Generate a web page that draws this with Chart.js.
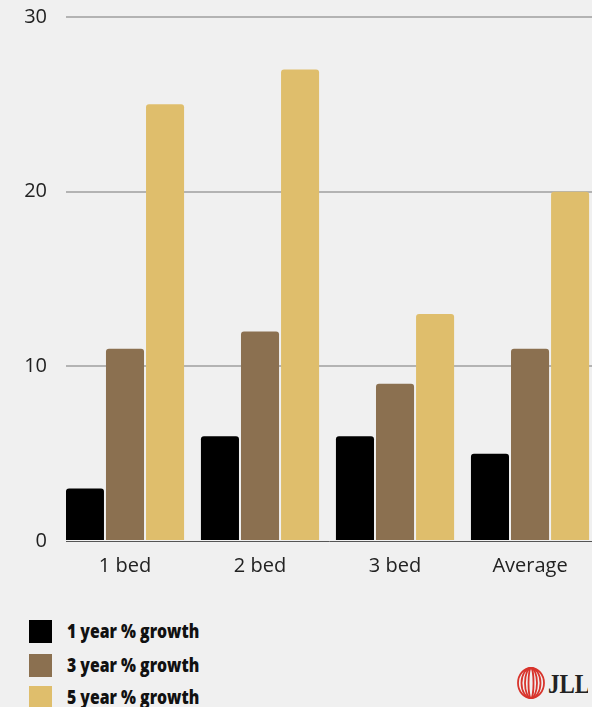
<!DOCTYPE html>
<html>
<head>
<meta charset="utf-8">
<script src="https://cdn.jsdelivr.net/npm/chart.js@4"></script>
<style>
  html, body { margin: 0; padding: 0; background: #f0f0f0; width: 592px; height: 707px; overflow: hidden; }
  #wrap { position: absolute; left: 0; top: 0; width: 592px; height: 585px; }
  #legend { position: absolute; left: 29px; top: 620px; }
  .item { position: absolute; left: 0; height: 24px; width: 300px; }
  .box { position: absolute; left: 0; top: 0; width: 23px; height: 23px; }
  .lbl { position: absolute; left: 38px; top: -2px; font-family: "Open Sans", sans-serif; font-weight: 800; font-size: 19px; line-height: 26px; color: #111; white-space: nowrap; transform: scaleX(0.83); transform-origin: left center; }
  #logo { position: absolute; left: 514px; top: 664px; }
</style>
</head>
<body>
<div id="wrap"><canvas id="c" width="592" height="585"></canvas></div>
<div id="legend"></div>
<svg id="logo" width="74" height="38" viewBox="0 0 74 38">
  <g fill="none" stroke="#d8342c" stroke-width="1.8">
    <ellipse cx="17" cy="19" rx="13" ry="15"/>
    <ellipse cx="17" cy="19" rx="9.5" ry="15"/>
    <ellipse cx="17" cy="19" rx="6" ry="15"/>
    <ellipse cx="17" cy="19" rx="2.5" ry="15"/>
  </g>
  <text x="34" y="29" font-family="Liberation Serif, DejaVu Serif, serif" font-weight="700" font-size="27" fill="#222" transform="translate(34 0) scale(0.85 1) translate(-34 0)">JLL</text>
</svg>
<script>
const categories = ["1 bed", "2 bed", "3 bed", "Average"];
const seriesNames = ["1 year % growth", "3 year % growth", "5 year % growth"];
const oneYear = [3, 6, 6, 5];
const threeYear = [11, 12, 9, 11];
const fiveYear = [25, 27, 13, 20];
const yTicks = [0, 10, 20, 30];
const colors = ["#000000", "#8b7050", "#dfbe6c"];

const seriesValues = [oneYear, threeYear, fiveYear];
const datasets = seriesValues.map((vals, i) => ({
  label: seriesNames[i],
  data: vals.map((v, k) => ({ x: k, y: v })),
  backgroundColor: colors[i],
  borderWidth: 0,
  borderRadius: { topLeft: 3, topRight: 3, bottomLeft: 0, bottomRight: 0 },
  borderSkipped: 'bottom',
  categoryPercentage: 0.89,
  barPercentage: 0.95
}));

const chart = new Chart(document.getElementById('c'), {
  type: 'bar',
  data: { datasets },
  options: {
    responsive: false,
    animation: false,
    layout: { padding: { top: 17, left: 0, right: 0, bottom: 0 } },
    plugins: { legend: { display: false }, tooltip: { enabled: false } },
    scales: {
      x: {
        type: 'linear',
        min: -0.437,
        max: 3.459,
        offset: false,
        grid: { display: false, drawTicks: false },
        border: { display: true, color: '#555555', width: 1 },
        afterBuildTicks: s => { s.ticks = categories.map((_, i) => ({ value: i })); },
        afterFit: s => { s.height = 44; s.paddingLeft = 0; s.paddingRight = 0; },
        ticks: {
          autoSkip: false,
          maxRotation: 0,
          padding: 13,
          color: '#222',
          font: { family: 'Open Sans', size: 20 },
          callback: v => categories[v]
        }
      },
      y: {
        min: 0,
        max: 30,
        afterBuildTicks: s => { s.ticks = yTicks.map(v => ({ value: v })); },
        afterFit: s => { s.width = 66; s.paddingTop = 0; s.paddingBottom = 0; },
        grid: {
          drawTicks: false,
          color: ctx => ctx.tick && ctx.tick.value === 0 ? 'rgba(0,0,0,0)' : '#b3b3b3',
          lineWidth: 2
        },
        border: { display: false },
        ticks: {
          padding: 19,
          color: '#222',
          font: { family: 'Open Sans', size: 20 }
        }
      }
    }
  }
});

const legend = document.getElementById('legend');
const rowTops = [0, 34, 66];
chart.data.datasets.forEach((ds, i) => {
  const item = document.createElement('div');
  item.className = 'item';
  item.style.top = rowTops[i] + 'px';
  const box = document.createElement('div');
  box.className = 'box';
  box.style.background = ds.backgroundColor;
  const lbl = document.createElement('div');
  lbl.className = 'lbl';
  lbl.textContent = ds.label;
  item.appendChild(box);
  item.appendChild(lbl);
  legend.appendChild(item);
});
</script>
</body>
</html>
